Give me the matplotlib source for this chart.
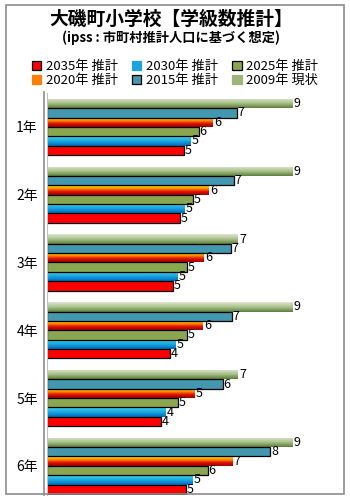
"""Oiso town elementary school class-count projection chart."""
import numpy as np
import matplotlib
matplotlib.use("Agg")
import matplotlib.pyplot as plt
from matplotlib.colors import LinearSegmentedColormap
from matplotlib.patches import Patch, Rectangle
from matplotlib.lines import Line2D

plt.rcParams["font.family"] = ["Noto Sans CJK JP", "DejaVu Sans"]

GRADES = ["1年", "2年", "3年", "4年", "5年", "6年"]
SERIES = ["2009年 現状", "2015年 推計", "2020年 推計", "2025年 推計", "2030年 推計", "2035年 推計"]
V2009 = [9, 9, 7, 9, 7, 9]
V2015 = [6.95, 6.84, 6.73, 6.76, 6.43, 8.16]
V2020 = [6.07, 5.92, 5.74, 5.70, 5.41, 6.80]
V2025 = [5.55, 5.33, 5.11, 5.11, 4.78, 5.88]
V2030 = [5.26, 5.04, 4.78, 4.71, 4.34, 5.33]
V2035 = [5.00, 4.86, 4.60, 4.49, 4.16, 5.08]
VALUES = [V2009, V2015, V2020, V2025, V2030, V2035]

# solid colour, gradient stops (top -> bottom) or None, edge colour
STYLES = [
    ("#9CB57A", ["#DCE6CF", "#A9C18B", "#5F7F3B"], "none"),
    ("#4397AE", None, "black"),
    ("#FF8000", ["#FFE000", "#FF9000", "#E01000", "#A00000"], "none"),
    ("#8AA650", None, "black"),
    ("#1AA3DD", ["#3FD3F0", "#1AA8E0", "#0068C0"], "none"),
    ("#FF0000", None, "black"),
]


def draw():
    fig = plt.figure(figsize=(3.5, 5.0), dpi=100)
    fig.patches.append(Rectangle((6 / 350, 6 / 500), 338 / 350, 489 / 500, transform=fig.transFigure,
                                 fill=False, edgecolor="#8C8C8C", linewidth=1.2))
    fig.text(0.49, 0.962, "大磯町小学校【学級数推計】", ha="center", va="center", fontsize=13.5, weight="bold")
    fig.text(0.49, 0.925, "(ipss : 市町村推計人口に基づく想定)", ha="center", va="center", fontsize=9.5, weight="bold")

    ax = fig.add_axes([47.5 / 350, 5 / 500, 296.5 / 350, 402 / 500])
    fig.lines.append(Line2D([44 / 350, 44 / 350], [5 / 500, 408 / 500], transform=fig.transFigure,
                            color="#8C8C8C", linewidth=1.2))

    y = np.arange(len(GRADES))
    h = 0.138
    for i, (vals, (color, grad, edge)) in enumerate(zip(VALUES, STYLES)):
        pos = y + (i - 2.5) * h
        bars = ax.barh(pos, vals, height=h, color=color if grad is None else "none",
                       edgecolor=edge, linewidth=0.9, zorder=2)
        if grad is not None:
            cmap = LinearSegmentedColormap.from_list(f"g{i}", grad)
            img = np.linspace(0, 1, 32).reshape(-1, 1)
            for bar in bars:
                x0, y0 = bar.get_x(), bar.get_y()
                im = ax.imshow(img, cmap=cmap, aspect="auto", zorder=1.5,
                               extent=(x0, x0 + bar.get_width(), y0 + bar.get_height(), y0))
                im.set_clip_path(bar)
        for p, v in zip(pos, vals):
            ax.text(v + 0.03, p, f"{v:.0f}", va="center", ha="left", fontsize=9, zorder=3)

    ax.set_xlim(0, 10.87)
    ax.set_ylim(5.43, -0.5)
    ax.set_yticks(y)
    ax.set_yticklabels(GRADES, fontsize=10)
    ax.tick_params(axis="y", length=0, pad=7)
    ax.set_xticks([])
    for side in ["top", "right", "bottom"]:
        ax.spines[side].set_visible(False)
    ax.spines["left"].set_color("#C0C0C0")
    ax.patch.set_alpha(0)

    handles = [Patch(facecolor=c, edgecolor=e if e != "none" else c, linewidth=0.9) for c, _, e in STYLES]
    order = [5, 2, 4, 1, 3, 0]
    fig.legend([handles[k] for k in order], [SERIES[k] for k in order], ncol=3,
               loc="center", bbox_to_anchor=(0.5, 0.853), frameon=False, fontsize=9.5,
               handlelength=0.7, handleheight=0.7, handletextpad=0.35, columnspacing=1.1,
               labelspacing=0.1, borderaxespad=0)
    fig.savefig("out.png", dpi=100)


if __name__ == "__main__":
    draw()
